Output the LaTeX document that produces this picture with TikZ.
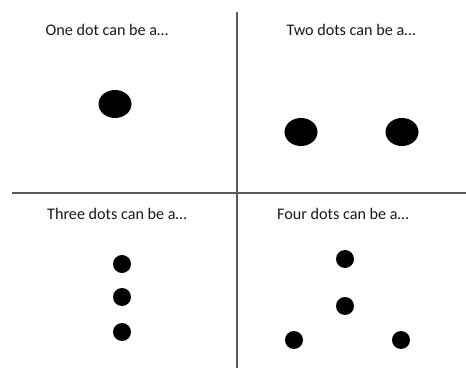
\documentclass[tikz,border=0pt]{standalone}
\usepackage{fontspec}
\setmainfont{Carlito}
\usepackage{tikz}
\usetikzlibrary{shapes.geometric,positioning}

\tikzset{
  bigdot/.style={ellipse,fill=black,inner sep=0pt,minimum width=33*0.03cm,minimum height=28*0.03cm},
  smalldot/.style={circle,fill=black,inner sep=0pt,minimum size=18*0.03cm},
  caption/.style={font=\fontsize{13.8}{15}\selectfont,text=black!90},
  divider/.style={draw=black!65,line width=1.4pt}
}

\begin{document}
\begin{tikzpicture}[x=0.03cm,y=-0.03cm]
  \useasboundingbox (0,0) rectangle (466,368);
  % quadrant dividers
  \coordinate (top) at (237,12);
  \coordinate (bottom) at (237,368);
  \coordinate (left) at (12,193);
  \coordinate (right) at (466,193);
  \draw[divider] (top) -- (bottom);
  \draw[divider] (left) -- (right);
  % captions
  \node[caption] (cone) at (107,30) {One dot can be a\dots};
  \node[caption] (ctwo) at (351,30) {Two dots can be a\dots};
  \node[caption] (cthree) at (117,214) {Three dots can be a\dots};
  \node[caption] (cfour) at (343,214) {Four dots can be a\dots};
  % one
  \node[bigdot] (d1) at (115,104) {};
  % two
  \node[bigdot] (d2a) at (301,132) {};
  \node[bigdot] (d2b) at (402,132) {};
  % three
  \node[smalldot] (d3a) at (122,264) {};
  \node[smalldot] (d3b) at (122,297) {};
  \node[smalldot] (d3c) at (122,332) {};
  % four
  \node[smalldot] (d4a) at (345,259) {};
  \node[smalldot] (d4b) at (345,306) {};
  \node[smalldot] (d4c) at (294,340) {};
  \node[smalldot] (d4d) at (401,340) {};
\end{tikzpicture}
\end{document}
